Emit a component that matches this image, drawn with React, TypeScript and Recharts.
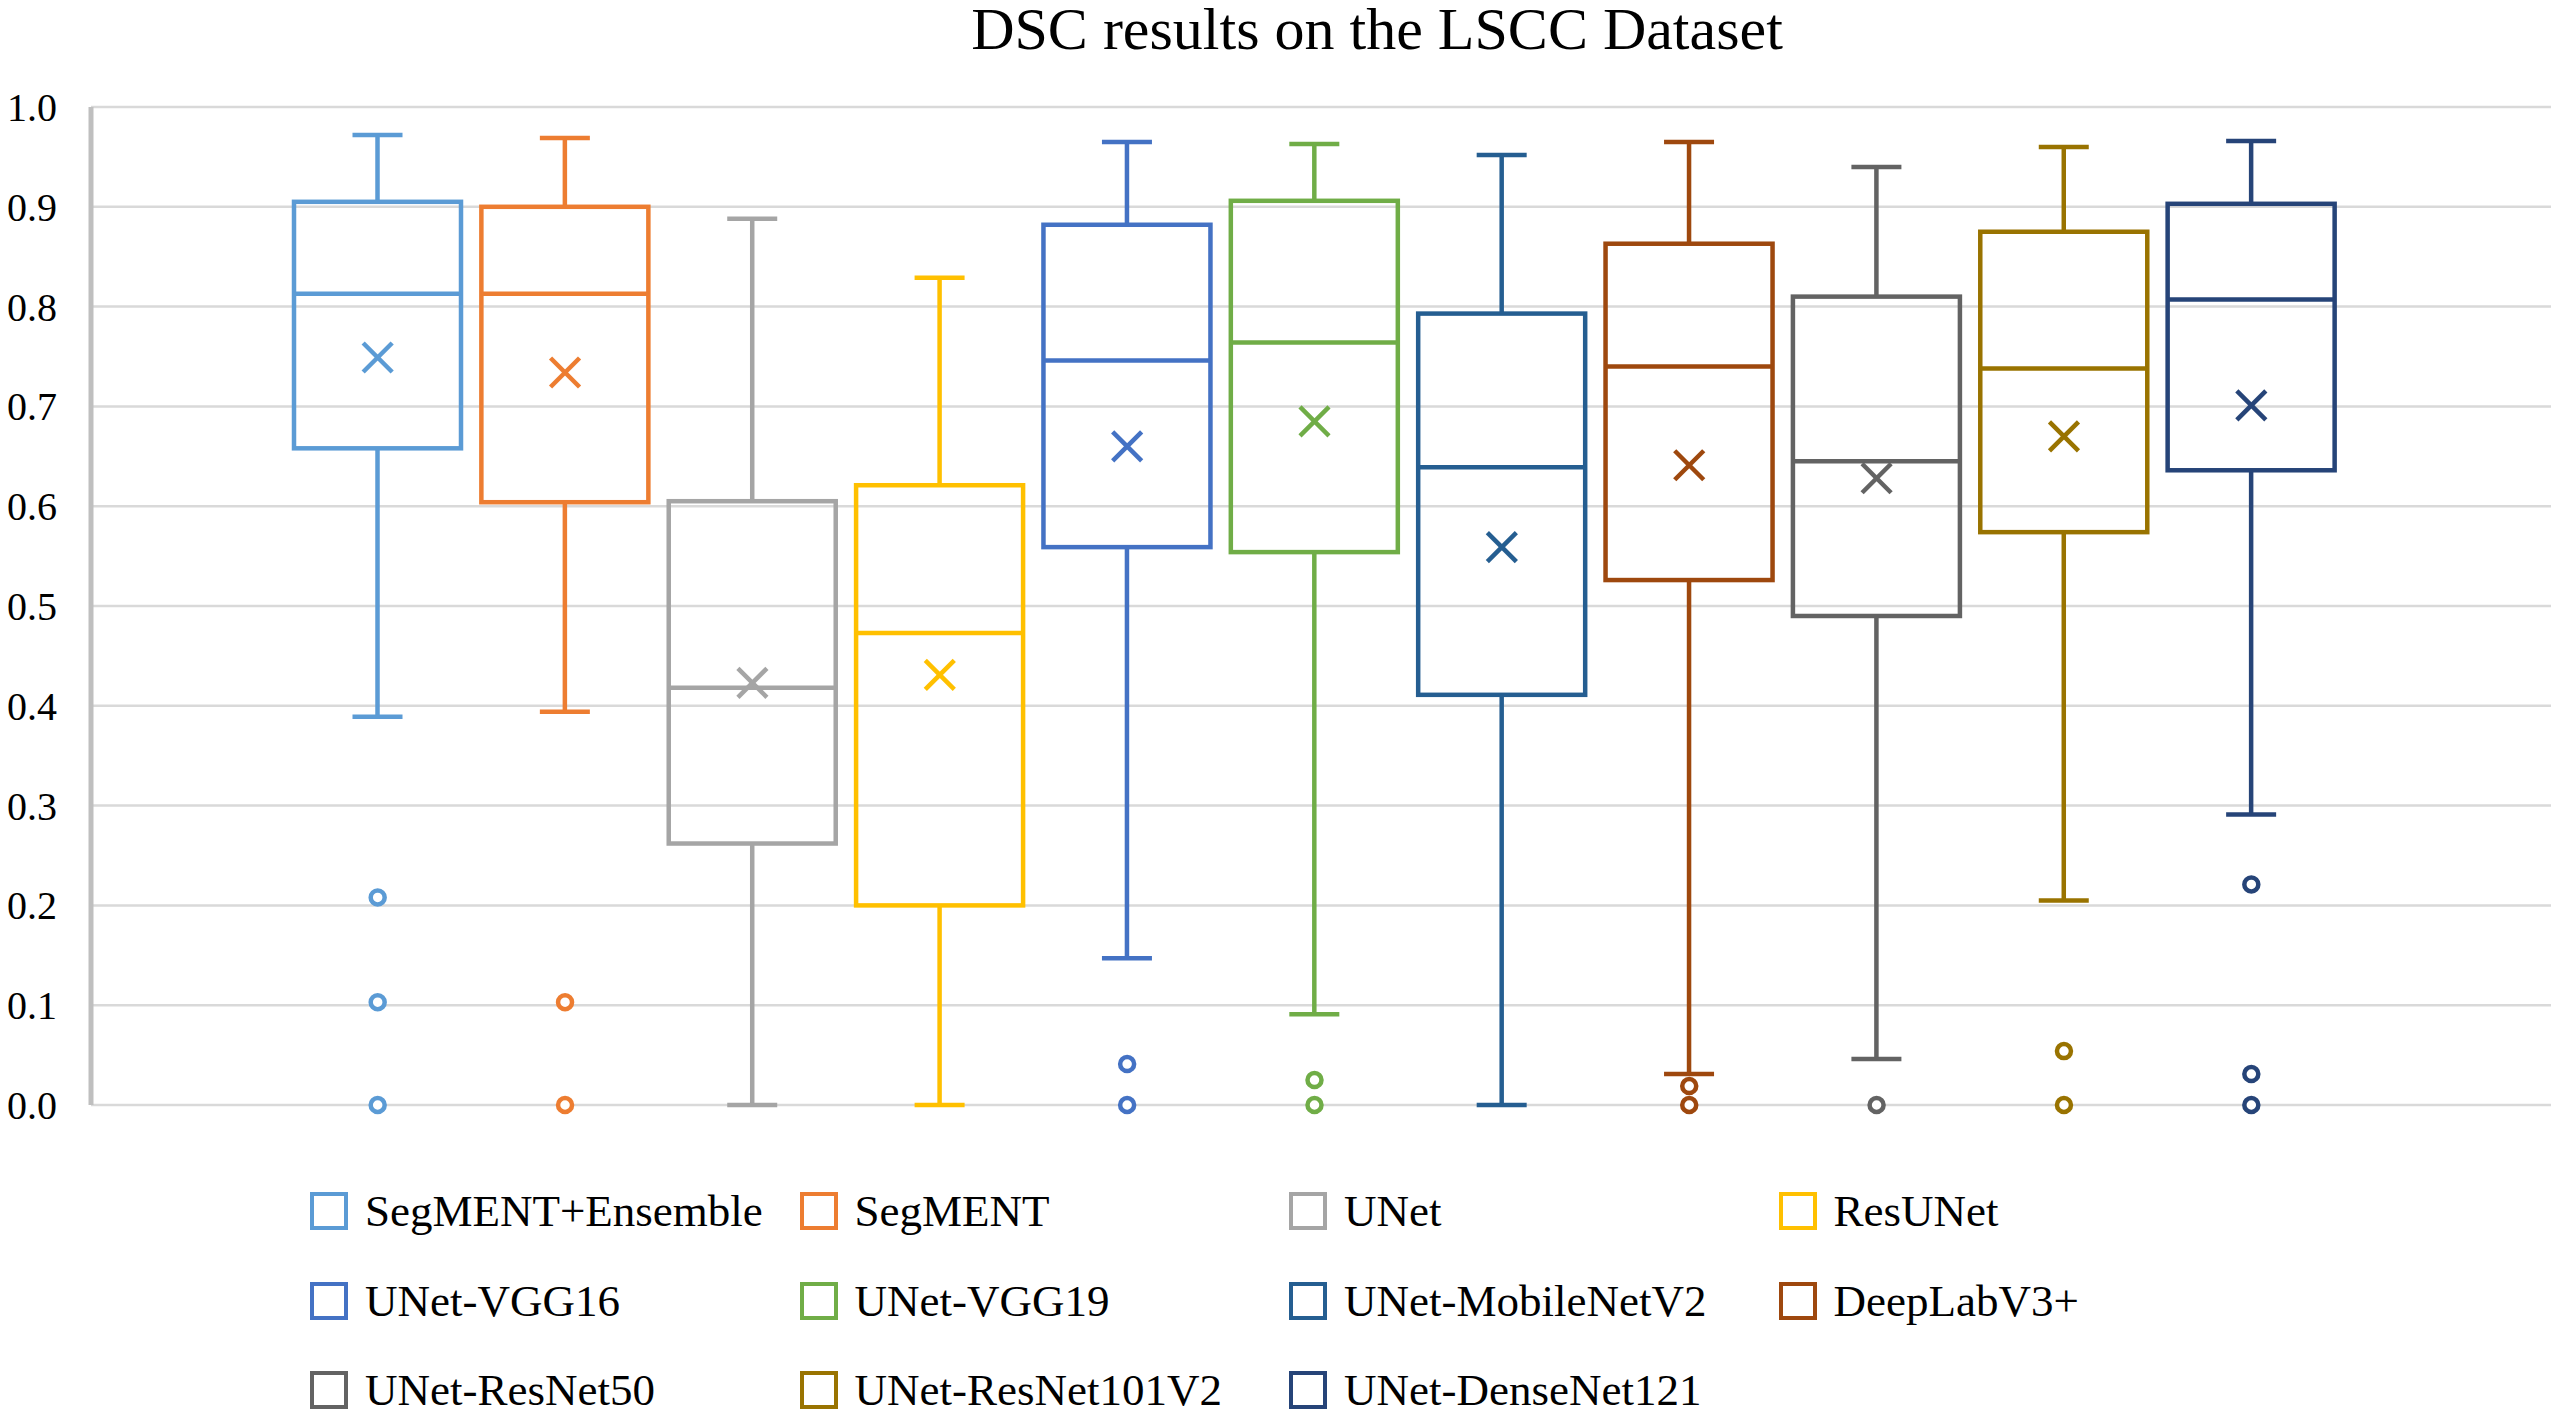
import React from 'react';
import { ComposedChart, Bar, Line, XAxis, YAxis, CartesianGrid } from 'recharts';

const title = 'DSC results on the LSCC Dataset';

const categories = [
  'SegMENT+Ensemble', 'SegMENT', 'UNet', 'ResUNet', 'UNet-VGG16', 'UNet-VGG19',
  'UNet-MobileNetV2', 'DeepLabV3+', 'UNet-ResNet50', 'UNet-ResNet101V2', 'UNet-DenseNet121',
];

const colors = [
  '#5B9BD5', '#ED7D31', '#A5A5A5', '#FFC000', '#4472C4', '#70AD47',
  '#255E91', '#9E480E', '#636363', '#997300', '#264478',
];

const maxVals = [0.972, 0.969, 0.888, 0.829, 0.965, 0.963, 0.952, 0.965, 0.940, 0.960, 0.966];
const q3Vals = [0.905, 0.900, 0.605, 0.621, 0.882, 0.906, 0.793, 0.863, 0.810, 0.875, 0.903];
const medianVals = [0.813, 0.813, 0.418, 0.473, 0.746, 0.764, 0.639, 0.740, 0.645, 0.738, 0.807];
const meanVals = [0.749, 0.734, 0.423, 0.431, 0.660, 0.685, 0.559, 0.641, 0.628, 0.670, 0.701];
const q1Vals = [0.658, 0.604, 0.262, 0.200, 0.559, 0.554, 0.411, 0.526, 0.490, 0.574, 0.636];
const minVals = [0.389, 0.394, 0, 0, 0.147, 0.091, 0, 0.031, 0.046, 0.205, 0.291];

const outlierVals: number[][] = [
  [0.208, 0.103, 0], [0.103, 0], [], [], [0.041, 0], [0.025, 0],
  [], [0.019, 0], [0], [0.054, 0], [0.221, 0.031, 0],
];

const yTicks = [0, 0.1, 0.2, 0.3, 0.4, 0.5, 0.6, 0.7, 0.8, 0.9, 1.0];

const data = categories.map((name, i) => ({
  name,
  color: colors[i],
  range: [minVals[i], maxVals[i]],
  min: minVals[i],
  q1: q1Vals[i],
  median: medianVals[i],
  q3: q3Vals[i],
  max: maxVals[i],
  mean: meanVals[i],
  o1: outlierVals[i][0] ?? null,
  o2: outlierVals[i][1] ?? null,
  o3: outlierVals[i][2] ?? null,
}));

const FONT = '"Liberation Serif", "Times New Roman", serif';
const SW = 4.5;

const BoxShape = (props: any) => {
  const { x, y, width, height, payload } = props;
  const c = payload.color;
  const lo = payload.min;
  const hi = payload.max;
  const py = (v: number) => y + ((hi - v) / (hi - lo)) * height;
  const cx = x + width / 2;
  const capHalf = 25;
  const yMax = py(payload.max);
  const yQ3 = py(payload.q3);
  const yMed = py(payload.median);
  const yQ1 = py(payload.q1);
  const yMin = py(payload.min);
  return (
    <g>
      <line x1={cx} x2={cx} y1={yMax} y2={yQ3} stroke={c} strokeWidth={SW} />
      <line x1={cx - capHalf} x2={cx + capHalf} y1={yMax} y2={yMax} stroke={c} strokeWidth={SW} />
      <line x1={cx} x2={cx} y1={yQ1} y2={yMin} stroke={c} strokeWidth={SW} />
      <line x1={cx - capHalf} x2={cx + capHalf} y1={yMin} y2={yMin} stroke={c} strokeWidth={SW} />
      <rect x={x} y={yQ3} width={width} height={yQ1 - yQ3} fill="none" stroke={c} strokeWidth={SW} />
      <line x1={x} x2={x + width} y1={yMed} y2={yMed} stroke={c} strokeWidth={SW} />
    </g>
  );
};

const MeanDot = (props: any) => {
  const { cx, cy, payload, index } = props;
  if (cx == null || cy == null || isNaN(cy)) return <g key={`m${index}`} />;
  const s = 14.5;
  return (
    <g key={`m${index}`}>
      <line x1={cx - s} y1={cy - s} x2={cx + s} y2={cy + s} stroke={payload.color} strokeWidth={SW} />
      <line x1={cx - s} y1={cy + s} x2={cx + s} y2={cy - s} stroke={payload.color} strokeWidth={SW} />
    </g>
  );
};

const makeOutlierDot = (tag: string) => (props: any) => {
  const { cx, cy, payload, index, value } = props;
  if (cx == null || cy == null || value == null || isNaN(cy)) return <g key={`${tag}${index}`} />;
  return <circle key={`${tag}${index}`} cx={cx} cy={cy} r={7} fill="#ffffff" stroke={payload.color} strokeWidth={SW} />;
};

const YTick = (props: any) => {
  const { x, y, payload } = props;
  return (
    <text x={x} y={y} dy="0.35em" textAnchor="end" fontFamily={FONT} fontSize={40} fill="#000">
      {payload.value.toFixed(1)}
    </text>
  );
};

const legendRows = [
  [0, 1, 2, 3],
  [4, 5, 6, 7],
  [8, 9, 10],
];

export default function App() {
  return (
    <div style={{ position: 'relative', width: 2543, height: 1402, background: '#fff', fontFamily: FONT }}>
      <div
        style={{
          position: 'absolute', top: -9, left: 0, width: 2738, textAlign: 'center',
          fontSize: 60, lineHeight: '60px', color: '#000', whiteSpace: 'nowrap',
        }}
      >
        {title}
      </div>
      <div style={{ position: 'absolute', top: 0, left: 0 }}>
        <ComposedChart width={2543} height={1130} data={data} margin={{ top: 99, right: 0, bottom: 33, left: 0 }}>
          <CartesianGrid vertical={false} stroke="#d9d9d9" strokeWidth={2.5} />
          <XAxis dataKey="name" hide height={0} padding={{ left: 193, right: 206 }} />
          <YAxis
            domain={[0, 1]}
            ticks={yTicks}
            width={83}
            tickLine={false}
            tickSize={0}
            tickMargin={34}
            axisLine={{ stroke: '#bfbfbf', strokeWidth: 5 }}
            tick={<YTick />}
          />
          <Bar dataKey="range" barSize={167} shape={<BoxShape />} isAnimationActive={false} />
          <Line dataKey="mean" stroke="none" dot={<MeanDot />} activeDot={false} isAnimationActive={false} />
          <Line dataKey="o1" stroke="none" dot={makeOutlierDot('a')} activeDot={false} isAnimationActive={false} />
          <Line dataKey="o2" stroke="none" dot={makeOutlierDot('b')} activeDot={false} isAnimationActive={false} />
          <Line dataKey="o3" stroke="none" dot={makeOutlierDot('c')} activeDot={false} isAnimationActive={false} />
        </ComposedChart>
      </div>
      {legendRows.map((row, r) =>
        row.map((idx, cIdx) => (
          <div
            key={`lg${idx}`}
            style={{
              position: 'absolute', left: 302 + cIdx * 489.5, top: 1203 + r * 89.5 - 26,
              height: 52, display: 'flex', alignItems: 'center', whiteSpace: 'nowrap',
            }}
          >
            <div
              style={{
                width: 30, height: 30, border: `4px solid ${colors[idx]}`, background: '#fff',
                marginRight: 17,
              }}
            />
            <span style={{ fontSize: 45, color: '#000', lineHeight: '52px' }}>{categories[idx]}</span>
          </div>
        ))
      )}
    </div>
  );
}
